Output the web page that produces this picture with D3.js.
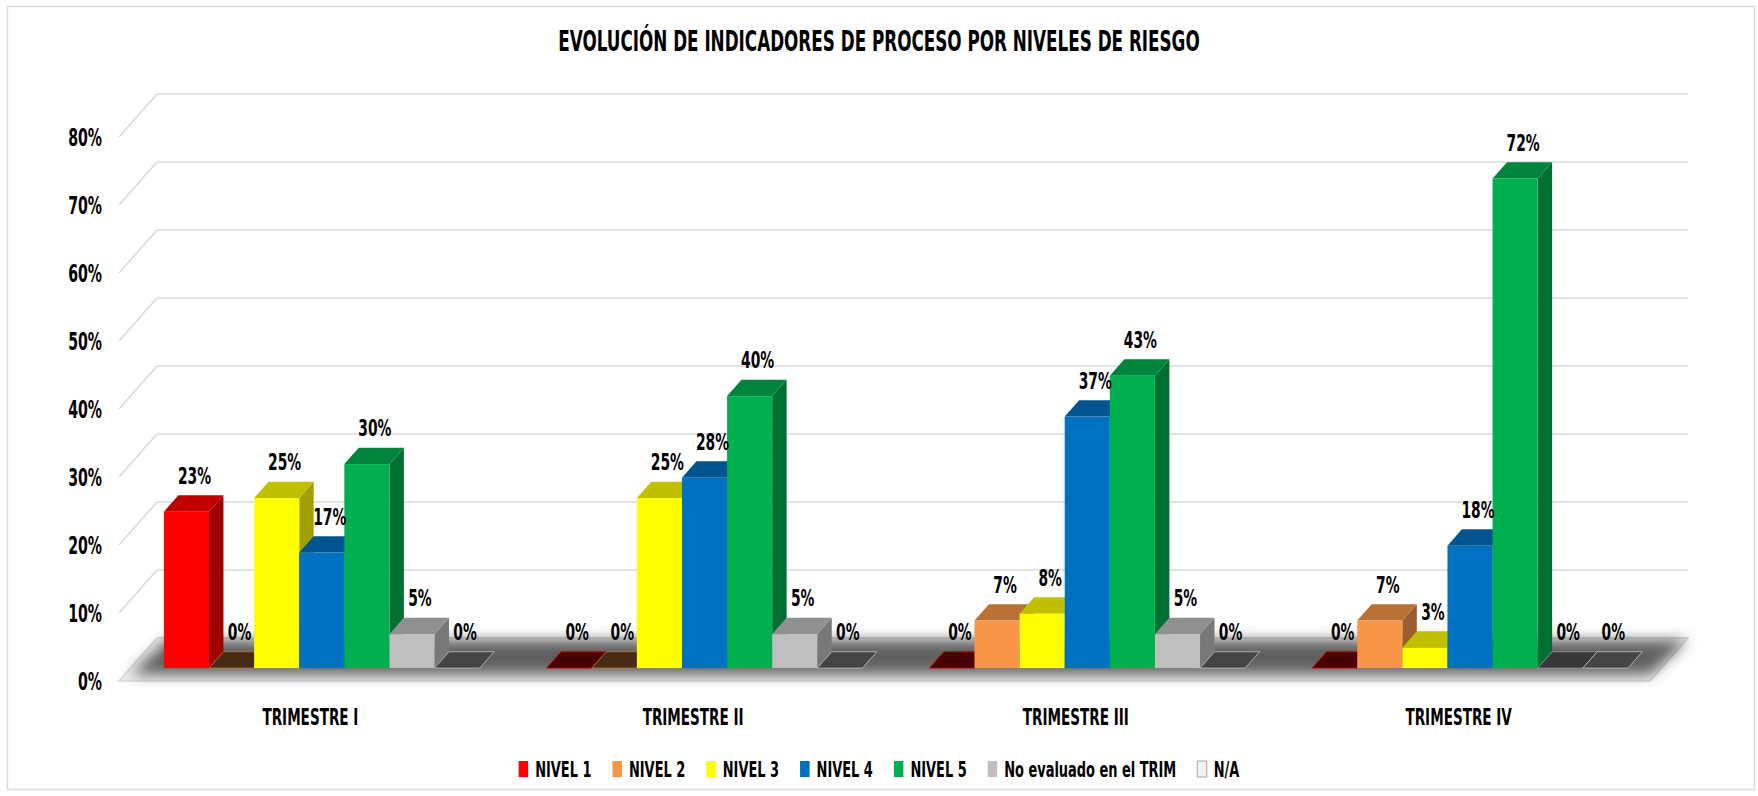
<!DOCTYPE html>
<html>
<head>
<meta charset="utf-8">
<script src="https://cdn.jsdelivr.net/npm/d3@7"></script>
<style>
  body { margin: 0; background: #fff; }
  text { font-family: "Liberation Sans Narrow", "Arial Narrow", "DejaVu Sans Condensed", sans-serif; font-weight: bold; fill: #000; }
</style>
</head>
<body>
<svg id="chart" width="1758" height="796"></svg>
<script>
// data (percent)
const categories = ["TRIMESTRE I", "TRIMESTRE II", "TRIMESTRE III", "TRIMESTRE IV"];
const series = ["NIVEL 1", "NIVEL 2", "NIVEL 3", "NIVEL 4", "NIVEL 5", "No evaluado en el TRIM", "N/A"];
const nivel1 = [23, 0, 0, 0];
const nivel2 = [0, 0, 7, 7];
const nivel3 = [25, 25, 8, 3];
const nivel4 = [17, 28, 37, 18];
const nivel5 = [30, 40, 43, 72];
const noEvaluado = [5, 5, 5, 0];
const na = [0, 0, 0, 0];
const colors = ["#ff0000", "#f79646", "#ffff00", "#0070c0", "#00b050", "#bfbfbf", "#f2f2f2"];
const yTicks = [0, 10, 20, 30, 40, 50, 60, 70, 80];
const title = "EVOLUCIÓN DE INDICADORES DE PROCESO POR NIVELES DE RIESGO";

const values = [nivel1, nivel2, nivel3, nivel4, nivel5, noEvaluado, na];

const svg = d3.select("#chart");
const width = +svg.attr("width");

// oblique 3d projection
const floorFrontY = 681;
const depthX = 38, depthY = 43;
const z0 = 0.30, z1 = 0.68;

const xScale = d3.scaleBand()
  .domain(categories)
  .range([119, 1650])
  .paddingInner(0.175)
  .paddingOuter(0.0875);

const xSeries = d3.scaleBand()
  .domain(series)
  .range([0, xScale.bandwidth()]);

const yScale = d3.scaleLinear().domain([0, 80]).range([0, 544]);

const px = (x, z) => x + depthX * z;
const py = (v, z) => floorFrontY - yScale(v) - depthY * z;

// horizontal squeeze so the narrow font looks like the original
const probe = svg.append("text").style("font-size", "23px").text("TRIMESTRE II");
const fx = 101 / probe.node().getComputedTextLength();
probe.remove();

function label(g, x, y, txt, size, anchor) {
  return g.append("text")
    .attr("transform", `translate(${x},${y}) scale(${fx},1)`)
    .attr("text-anchor", anchor)
    .attr("dy", "0.36em")
    .style("font-size", size + "px")
    .text(txt);
}

// frame
svg.append("rect")
  .attr("x", 7.5).attr("y", 6.5)
  .attr("width", width - 11).attr("height", 783)
  .attr("fill", "#fff").attr("stroke", "#d9d9d9").attr("stroke-width", 1.5);

label(svg, width / 2, 41, title, 28.5, "middle");

// gridlines: left wall diagonal + back wall
const grid = svg.append("g");
const x0 = xScale.range()[0], xEnd = xScale.range()[1];
yTicks.forEach((t) => {
  grid.append("path")
    .attr("d", `M${x0},${py(t, 0)}L${px(x0, 1)},${py(t, 1)}L${px(xEnd, 1)},${py(t, 1)}`)
    .attr("fill", "none").attr("stroke", "#d9d9d9").attr("stroke-width", 1.5);
  label(grid, 102, py(t, 0), t + "%", 24, "end");
});

// floor with shadow
const defs = svg.append("defs");
defs.append("filter").attr("id", "blur")
  .attr("x", "-5%").attr("y", "-80%").attr("width", "110%").attr("height", "260%")
  .append("feGaussianBlur").attr("stdDeviation", 7);

const floorPts = [[x0, py(0, 0)], [xEnd, py(0, 0)], [px(xEnd, 1), py(0, 1)], [px(x0, 1), py(0, 1)]];
svg.append("path")
  .attr("d", d3.line()(floorPts) + "Z")
  .attr("fill", "#ececec").attr("stroke", "#d9d9d9").attr("stroke-width", 1.5);
const shadowPts = [[x0 + 12, py(0, 0.15)], [xEnd, py(0, 0.15)], [px(xEnd, 1), py(0, 0.95)], [px(x0, 1) + 10, py(0, 0.95)]];
svg.append("path")
  .attr("d", d3.line()(shadowPts) + "Z")
  .attr("fill", "#3c3c3c").attr("opacity", 0.8)
  .attr("filter", "url(#blur)");

// bars
const bars = svg.append("g");
const labels = svg.append("g");
const dzx = depthX * (z1 - z0), dzy = depthY * (z1 - z0);

categories.forEach((cat, ci) => {
  series.forEach((s, si) => {
    const v = values[si][ci];
    const base = d3.color(colors[si]);
    const xa = px(xScale(cat) + xSeries(s), z0);
    const xb = xa + xSeries.bandwidth();
    const yt = py(v, z0);
    const yb = py(0, z0);
    const top = [[xa, yt], [xb, yt], [xb + dzx, yt - dzy], [xa + dzx, yt - dzy]];
    if (v === 0) {
      bars.append("path").attr("d", d3.line()(top) + "Z")
        .attr("fill", base.darker(3.5)).attr("stroke", base.darker(0.6)).attr("stroke-width", 0.8);
    } else {
      const side = [[xb, yt], [xb + dzx, yt - dzy], [xb + dzx, yb - dzy], [xb, yb]];
      bars.append("path").attr("d", d3.line()(side) + "Z").attr("fill", base.darker(1.3));
      bars.append("path").attr("d", d3.line()(top) + "Z").attr("fill", base.darker(0.8));
      bars.append("rect")
        .attr("x", xa).attr("y", yt)
        .attr("width", xb - xa).attr("height", yb - yt)
        .attr("fill", base);
    }
    label(labels, (xa + xb) / 2 + 8, yt - dzy - 20, v + "%", 23.5, "middle");
  });
  label(labels, xScale(cat) + xScale.bandwidth() / 2, 717, cat, 23, "middle");
});

// legend
const legend = svg.append("g");
const items = series.map((s, i) => {
  const g = legend.append("g");
  g.append("rect")
    .attr("x", 0).attr("y", -8).attr("width", 9.5).attr("height", 16)
    .attr("fill", colors[i])
    .attr("stroke", i === 6 ? "#a6a6a6" : "none").attr("stroke-width", 1);
  const t = label(g, 16.5, 0, s, 22, "start");
  const w = 16.5 + t.node().getComputedTextLength() * fx;
  return { g, w };
});
const gapItems = 21;
const total = d3.sum(items, (d) => d.w) + gapItems * (items.length - 1);
let cx = width / 2 - total / 2;
items.forEach((d) => {
  d.g.attr("transform", `translate(${cx},769)`);
  cx += d.w + gapItems;
});
</script>
</body>
</html>
